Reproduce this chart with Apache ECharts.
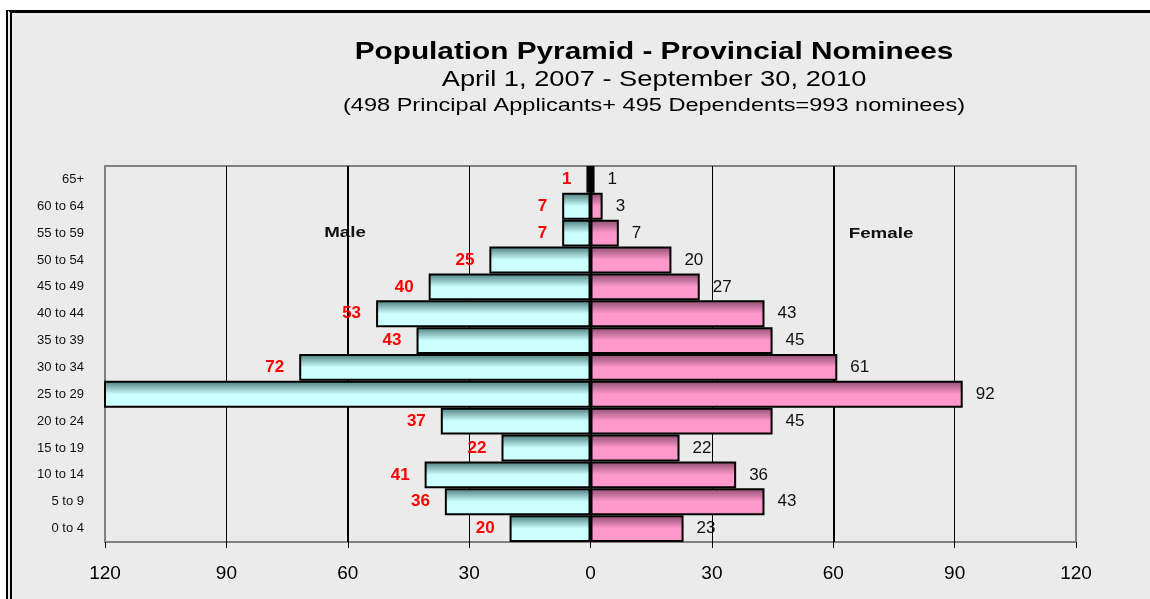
<!DOCTYPE html>
<html>
<head>
<meta charset="utf-8">
<title>Population Pyramid - Provincial Nominees</title>
<script src="https://cdn.jsdelivr.net/npm/echarts@6/dist/echarts.min.js"></script>
<style>
  html, body { margin: 0; padding: 0; background: #fff; }
  #chart { position: absolute; left: 0; top: 0; width: 1150px; height: 599px; background: #ebebeb; }
  #topStrip { position: absolute; left: 0; top: 0; width: 1150px; height: 10px; background: #fff; }
  #leftStrip { position: absolute; left: 0; top: 0; width: 6px; height: 599px; background: #fff; }
  #frame { position: absolute; left: 6px; top: 10px; width: 1150px; height: 600px;
           border-left: 6px double #000; border-top: 3px solid #000; pointer-events: none; }
</style>
</head>
<body>
<div id="chart"></div>
<div id="topStrip"></div>
<div id="leftStrip"></div>
<div id="frame"></div>
<script>
// 年龄段（自下而上）
const ageGroups = ['0 to 4', '5 to 9', '10 to 14', '15 to 19', '20 to 24', '25 to 29', '30 to 34',
  '35 to 39', '40 to 44', '45 to 49', '50 to 54', '55 to 59', '60 to 64', '65+'];
// 男性人数
const maleCounts = [20, 36, 41, 22, 37, 121, 72, 43, 53, 40, 25, 7, 7, 1];
// 女性人数
const femaleCounts = [23, 43, 36, 22, 45, 92, 61, 45, 43, 27, 20, 7, 3, 1];
// 横轴刻度
const axisMax = 120;
const minorStep = 30;
const majorStep = 60;

const chart = echarts.init(document.getElementById('chart'));

// 创建柱子渐变
function barGradient(dark, light) {
  return new echarts.graphic.LinearGradient(0, 0, 0, 1, [
    { offset: 0, color: dark },
    { offset: 0.5, color: light },
    { offset: 1, color: light }
  ]);
}

const maleData = maleCounts.map(v => ({
  value: -v,
  // 超出坐标轴的柱子不显示标签
  label: { show: v <= axisMax }
}));

// 标题文字（原图文字横向拉伸）
function titleText(text, y, size, weight) {
  return {
    type: 'text', x: 654, y: y, scaleX: 1.24,
    style: { text: text, fontSize: size, fontWeight: weight, fill: '#000', align: 'center', verticalAlign: 'middle', fontFamily: 'Liberation Sans' }
  };
}

const option = {
  animation: false,
  textStyle: { fontFamily: 'Liberation Sans, Arial, sans-serif' },
  grid: {
    left: 105, right: 74, top: 166, bottom: 57,
    show: true, borderColor: '#808080', borderWidth: 2, backgroundColor: 'transparent'
  },
  xAxis: [
    {
      type: 'value', min: -axisMax, max: axisMax, interval: minorStep,
      axisLine: { show: false },
      axisTick: { show: true, length: 6, lineStyle: { color: '#000', width: 1 } },
      axisLabel: { formatter: v => Math.abs(v), fontSize: 19, color: '#000', margin: 22 },
      splitLine: { show: true, showMinLine: false, showMaxLine: false, lineStyle: { color: '#000', width: 1 } }
    },
    {
      type: 'value', min: -axisMax, max: axisMax, interval: majorStep, position: 'bottom',
      axisLine: { show: false }, axisTick: { show: false }, axisLabel: { show: false },
      splitLine: { show: true, showMinLine: false, showMaxLine: false, lineStyle: { color: '#000', width: 2 } }
    }
  ],
  yAxis: {
    type: 'category', data: ageGroups,
    axisLine: { show: false }, axisTick: { show: false },
    axisLabel: { fontSize: 13, color: '#111', margin: 21 }
  },
  graphic: [
    titleText('Population Pyramid - Provincial Nominees', 52, 24, 'bold'),
    titleText('April 1, 2007 - September 30, 2010', 80, 22, 'normal'),
    titleText('(498 Principal Applicants+ 495 Dependents=993 nominees)', 106, 19, 'normal'),
    { type: 'text', x: 345, y: 233, scaleX: 1.25, style: { text: 'Male', fontSize: 15, fontWeight: 'bold', fill: '#111', align: 'center', verticalAlign: 'middle', fontFamily: 'Liberation Sans' } },
    { type: 'text', x: 881, y: 234, scaleX: 1.25, style: { text: 'Female', fontSize: 15, fontWeight: 'bold', fill: '#111', align: 'center', verticalAlign: 'middle', fontFamily: 'Liberation Sans' } }
  ],
  series: [
    {
      name: 'Male', type: 'bar', data: maleData, barGap: '-100%', barCategoryGap: '0%', clip: true,
      itemStyle: { color: barGradient('#4a7a7a', '#ccffff'), borderColor: '#000', borderWidth: 2 },
      label: { show: true, position: 'left', distance: 15, formatter: p => Math.abs(p.value), color: '#ff0000', fontSize: 17, fontWeight: 'bold' }
    },
    {
      name: 'Female', type: 'bar', data: femaleCounts, barCategoryGap: '0%', clip: true,
      itemStyle: { color: barGradient('#8c4c6e', '#ff99cc'), borderColor: '#000', borderWidth: 2 },
      label: { show: true, position: 'right', distance: 13, color: '#111', fontSize: 17 }
    }
  ]
};

chart.setOption(option);
window.addEventListener('resize', () => chart.resize());
</script>
</body>
</html>
